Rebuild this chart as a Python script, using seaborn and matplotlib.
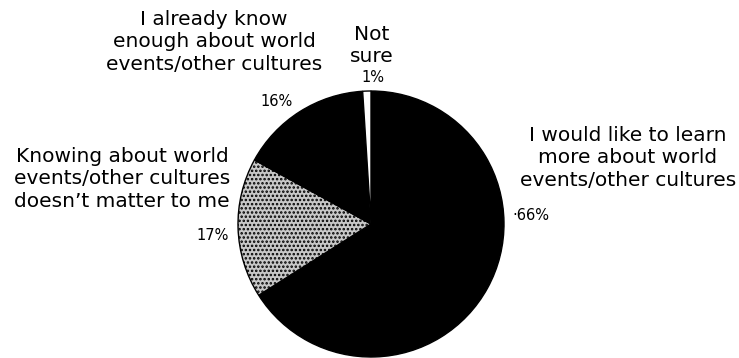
import matplotlib
matplotlib.use("Agg")
import matplotlib.pyplot as plt
import seaborn as sns

# Survey responses (percent of respondents)
categories = [
    "I would like to learn\nmore about world\nevents/other cultures",
    "Knowing about world\nevents/other cultures\ndoesn\u2019t matter to me",
    "I already know\nenough about world\nevents/other cultures",
    "Not\nsure",
]
shares = [66, 17, 16, 1]
pct_labels = ["\u00b766%", "17%", "16%", "1%"]
slice_colors = ["#000000", "#c8c8c8", "#000000", "#ffffff"]

sns.set_theme(style="white")
plt.rcParams["font.family"] = ["DejaVu Sans"]
plt.rcParams["hatch.linewidth"] = 1.2

W, H = 739, 358
fig = plt.figure(figsize=(W / 100, H / 100), dpi=100)
ax = fig.add_axes([0, 0, 1, 1])

wedges, _ = ax.pie(
    shares,
    colors=slice_colors,
    startangle=90,
    counterclock=False,
    center=(371, H - 224),
    radius=133,
    wedgeprops=dict(edgecolor="black", linewidth=1.0),
)
wedges[1].set_hatch("....")

ax.set_xlim(0, W)
ax.set_ylim(0, H)
ax.set_aspect("equal")
ax.axis("off")

big = dict(fontsize=14.5, color="black", ha="center", va="top", linespacing=1.22)
small = dict(fontsize=10.5, color="black", ha="center", va="center")

# Category names
ax.text(628, H - 126, categories[0], **big)
ax.text(122, H - 147, categories[1], **big)
ax.text(214, H - 10, categories[2], **big)
ax.text(372, H - 25, categories[3], **big)

# Percentages
ax.text(531, H - 215, pct_labels[0], **small)
ax.text(213, H - 235, pct_labels[1], **small)
ax.text(277, H - 101, pct_labels[2], **small)
ax.text(373, H - 78, pct_labels[3], **small)

fig.savefig("out.png", dpi=100)
